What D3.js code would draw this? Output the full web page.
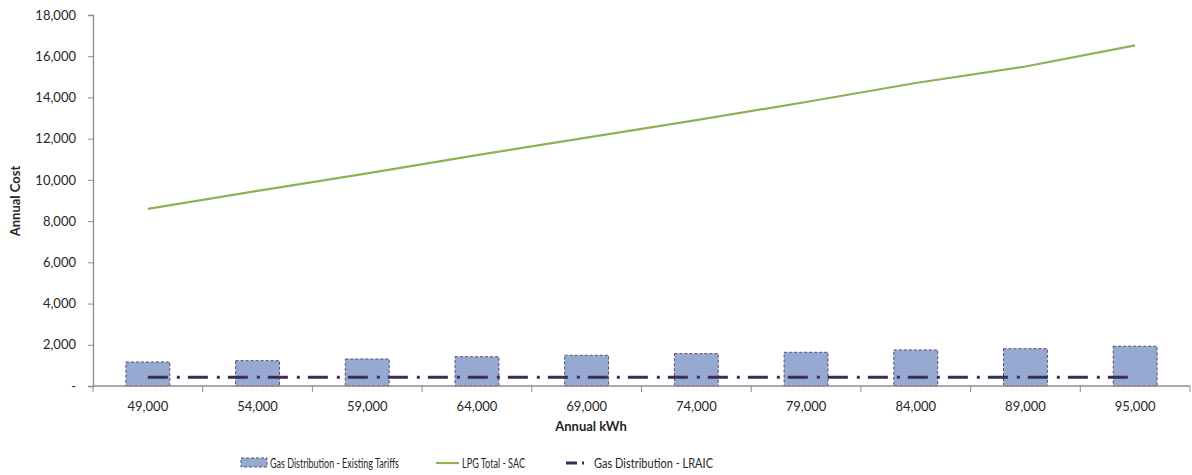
<!DOCTYPE html>
<html>
<head>
<meta charset="utf-8">
<script src="https://cdn.jsdelivr.net/npm/d3@7"></script>
<style>
  body { margin: 0; background: #fff; }
  svg text { font-family: Lato, "Open Sans", sans-serif; fill: #262626; }
</style>
</head>
<body>
<svg id="chart" width="1192" height="475"></svg>
<script>
const categories = ["49,000", "54,000", "59,000", "64,000", "69,000", "74,000", "79,000", "84,000", "89,000", "95,000"];
const existingTariffs = [1165, 1230, 1310, 1420, 1490, 1570, 1635, 1750, 1810, 1930];
const lpgTotal = [8595, 9470, 10320, 11200, 12050, 12900, 13780, 14700, 15500, 16530];
const lraic = [420, 420, 420, 420, 420, 420, 420, 420, 420, 420];
const yTicks = [0, 2000, 4000, 6000, 8000, 10000, 12000, 14000, 16000, 18000];

const svg = d3.select("#chart");
const margin = { top: 15, right: 2, bottom: 89, left: 93 };
const width = 1192 - margin.left - margin.right;
const height = 475 - margin.top - margin.bottom;

const g = svg.append("g")
  .attr("transform", `translate(${margin.left},${margin.top})`);

const x = d3.scaleBand()
  .domain(categories)
  .range([0, width])
  .paddingInner(0.6)
  .paddingOuter(0.3);

// band centres for the lines
const xc = d => x(d) + x.bandwidth() / 2;

const y = d3.scaleLinear()
  .domain([0, 18000])
  .range([height, 0]);

// bars
g.selectAll("rect.bar")
  .data(categories)
  .enter().append("rect")
  .attr("class", "bar")
  .attr("x", d => x(d))
  .attr("y", (d, i) => y(existingTariffs[i]))
  .attr("width", x.bandwidth())
  .attr("height", (d, i) => y(0) - y(existingTariffs[i]))
  .attr("fill", "#95a9d1")
  .attr("stroke", "#5c4a7a")
  .attr("stroke-width", 1)
  .attr("stroke-dasharray", "3,2");

// LRAIC dash-dot line
const lraicLine = d3.line()
  .x((d, i) => xc(categories[i]))
  .y(d => y(d));

g.append("path")
  .datum(lraic)
  .attr("fill", "none")
  .attr("stroke", "#3d2c53")
  .attr("stroke-width", 3)
  .attr("stroke-dasharray", "20,9,3,8")
  .attr("d", lraicLine);

// LPG total line
const lpgLine = d3.line()
  .x((d, i) => xc(categories[i]))
  .y(d => y(d));

g.append("path")
  .datum(lpgTotal)
  .attr("fill", "none")
  .attr("stroke", "#8db255")
  .attr("stroke-width", 2.2)
  .attr("d", lpgLine);

// y axis
const yAxis = g.append("g")
  .call(d3.axisLeft(y)
    .tickValues(yTicks)
    .tickSize(5)
    .tickPadding(12)
    .tickFormat(d => d === 0 ? "-" : d3.format(",")(d)));
yAxis.select(".domain").attr("stroke", "#8c8c8c").attr("stroke-width", 1.3);
yAxis.selectAll(".tick line").attr("stroke", "#8c8c8c");
yAxis.selectAll("text").style("font-size", "13px").attr("fill", "#262626");

// x axis: ticks at band boundaries
const xAxis = g.append("g")
  .attr("transform", `translate(0,${height})`);
xAxis.append("line")
  .attr("x1", 0).attr("x2", width)
  .attr("stroke", "#8c8c8c").attr("stroke-width", 1.3);
const step = width / categories.length;
xAxis.selectAll("line.tick")
  .data(d3.range(categories.length + 1))
  .enter().append("line")
  .attr("class", "tick")
  .attr("x1", d => d * step).attr("x2", d => d * step)
  .attr("y1", 0).attr("y2", 6)
  .attr("stroke", "#8c8c8c");
xAxis.selectAll("text.lbl")
  .data(categories)
  .enter().append("text")
  .attr("class", "lbl")
  .attr("x", d => xc(d))
  .attr("y", 25)
  .attr("text-anchor", "middle")
  .style("font-size", "13px")
  .text(d => d);

// axis titles
svg.append("text")
  .attr("x", 591)
  .attr("y", 431)
  .attr("text-anchor", "middle")
  .style("font-size", "13px")
  .style("font-weight", "bold")
  .text("Annual kWh");

svg.append("text")
  .attr("transform", "translate(20,201) rotate(-90)")
  .attr("text-anchor", "middle")
  .style("font-size", "13px")
  .style("font-weight", "bold")
  .text("Annual Cost");

// legend
const legend = svg.append("g").attr("transform", "translate(0,463)");
legend.append("rect")
  .attr("x", 241).attr("y", -5).attr("width", 26).attr("height", 9)
  .attr("fill", "#95a9d1").attr("stroke", "#5c4a7a").attr("stroke-dasharray", "3,2");
legend.append("text").attr("x", 270).attr("y", 4.5).style("font-size", "12.5px")
  .attr("textLength", 129).attr("lengthAdjust", "spacingAndGlyphs")
  .text("Gas Distribution - Existing Tariffs");

legend.append("line")
  .attr("x1", 436).attr("x2", 459).attr("y1", 0).attr("y2", 0)
  .attr("stroke", "#8db255").attr("stroke-width", 2.2);
legend.append("text").attr("x", 462).attr("y", 4.5).style("font-size", "12.5px")
  .attr("textLength", 63).attr("lengthAdjust", "spacingAndGlyphs")
  .text("LPG Total - SAC");

legend.append("line")
  .attr("x1", 566).attr("x2", 586).attr("y1", 0).attr("y2", 0)
  .attr("stroke", "#3d2c53").attr("stroke-width", 3)
  .attr("stroke-dasharray", "11,5,2,10");
legend.append("text").attr("x", 594).attr("y", 4.5).style("font-size", "12.5px")
  .attr("textLength", 119).attr("lengthAdjust", "spacingAndGlyphs")
  .text("Gas Distribution - LRAIC");
</script>
</body>
</html>
